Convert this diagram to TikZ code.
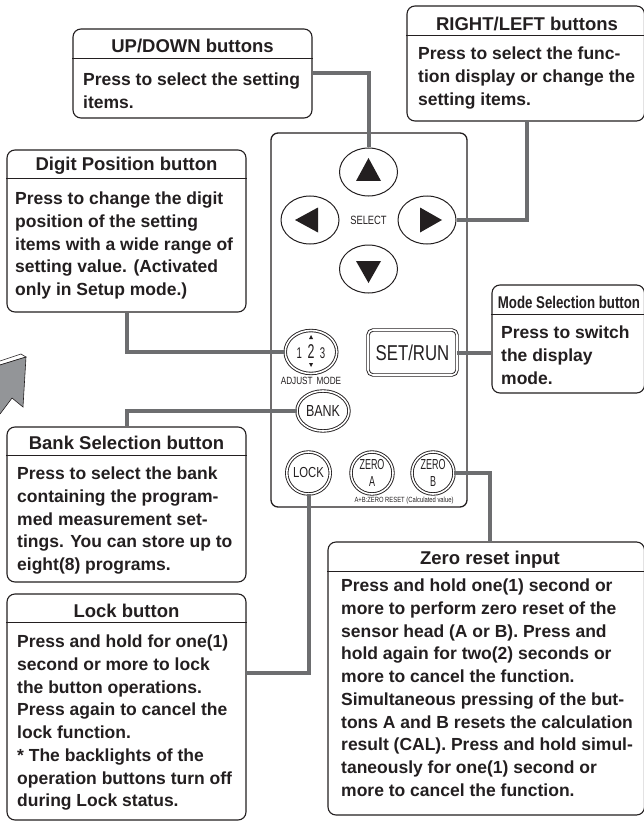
\documentclass[tikz,border=0pt]{standalone}
\usepackage{fontspec}
\setmainfont{Liberation Sans}
\newfontfamily\panelfont[FakeStretch=0.78]{Liberation Sans}
\newfontfamily\tallfont[FakeStretch=0.62]{Liberation Sans}
\newfontfamily\narrowfont[FakeStretch=0.78]{Liberation Sans}
\usetikzlibrary{shapes.geometric}
\definecolor{inkdark}{HTML}{231F20}
\definecolor{wiregray}{HTML}{6D6E70}
\definecolor{arrowgray}{HTML}{939598}
\tikzset{
  callout/.style={draw=inkdark, line width=1.1pt, rounded corners=8pt, fill=white, inner sep=0pt},
  calltitle/.style={text=inkdark, inner sep=0pt, font=\fontsize{18.5}{20}\selectfont\bfseries},
  callbody/.style={text=inkdark, inner sep=0pt, anchor=north west, align=left, font=\fontsize{17.5}{22.7}\selectfont\bfseries},
  headline/.style={draw=inkdark, line width=0.8pt},
  wire/.style={draw=wiregray, line width=4pt},
  selbtn/.style={draw=inkdark, line width=1pt, ellipse, fill=white, inner sep=0pt, minimum width=58pt, minimum height=48pt},
  dblbtn/.style={draw=inkdark, line width=0.9pt, double, double distance=1.6pt, ellipse, inner sep=0pt, align=center, text=inkdark},
  panellabel/.style={text=inkdark, inner sep=0pt, font=\panelfont\fontsize{12}{14}\selectfont},
  zerolabel/.style={font=\tallfont\fontsize{14.5}{15.5}\selectfont}
}
\begin{document}
\begin{tikzpicture}[x=1pt,y=-1pt]
    \useasboundingbox (0,0) rectangle (644,821);

    % the part of the big arrow at the left edge
    \fill[white,draw=inkdark,line width=0.6pt] (0,361) -- (21,354) -- (26,357) -- (0,365);
    \fill[arrowgray,draw=inkdark,line width=0.6pt] (0,365) -- (26,357) -- (23,407) -- (12,398) -- (0,414);

    % panel and buttons
    \node[draw=inkdark, line width=1.3pt, rounded corners=7pt, inner sep=0pt, minimum width=196pt, minimum height=374pt] (panel) at (369,320) {};

    \node[selbtn] (upbtn) at (368.5,172) {};
    \node[selbtn] (leftbtn) at (310,220) {};
    \node[selbtn] (rightbtn) at (427,220) {};
    \node[selbtn] (downbtn) at (368.5,269) {};
    \fill[inkdark] (356,181) -- (368.5,158) -- (381,181) -- cycle;
    \fill[inkdark] (295,220) -- (318,207.5) -- (318,232.5) -- cycle;
    \fill[inkdark] (442,220) -- (420,207.5) -- (420,232.5) -- cycle;
    \fill[inkdark] (356,261) -- (368.5,283) -- (381,261) -- cycle;
    \node[panellabel] (selectlabel) at (368.5,220) {SELECT};

    \node[dblbtn, minimum width=51.6pt, minimum height=43pt, font=\tallfont\fontsize{15.5}{17}\selectfont] (digitbtn) at (311,352) {1\hspace{5.5pt}{\fontsize{20}{20}\selectfont 2}\hspace{5.5pt}3};
    \fill[inkdark] (309,339) -- (311,335) -- (313,339) -- cycle;
    \fill[inkdark] (309,363) -- (311,367) -- (313,363) -- cycle;
    \node[panellabel, font=\panelfont\fontsize{10.5}{12}\selectfont] (adjustlabel) at (311,381) {ADJUST\hspace{4pt}MODE};

    \node[draw=inkdark, line width=0.9pt, double, double distance=1.6pt, rounded corners=5pt, inner sep=0pt, minimum width=89pt, minimum height=45pt, text=inkdark, font=\panelfont\fontsize{21.5}{23}\selectfont] (setrun) at (412.5,352.5) {SET/RUN};

    \node[dblbtn, minimum width=52pt, minimum height=40pt, font=\panelfont\fontsize{16}{18}\selectfont] (bankbtn) at (323,411) {BANK};
    \node[dblbtn, minimum width=42pt, minimum height=42pt, font=\panelfont\fontsize{14.5}{16}\selectfont] (lockbtn) at (308.5,473) {LOCK};
    \node[dblbtn, minimum width=42pt, minimum height=42pt, zerolabel] (zeroabtn) at (372,473) {ZERO\\[1.5pt]A};
    \node[dblbtn, minimum width=42pt, minimum height=42pt, zerolabel] (zerobbtn) at (433,473) {ZERO\\[1.5pt]B};
    \node[text=inkdark, inner sep=0pt, font=\panelfont\fontsize{7.5}{9}\selectfont] (resetlabel) at (404,501) {A+B:ZERO RESET (Calculated value)};

    % boxes
    \node[callout, minimum width=239pt, minimum height=89pt] (updown) at (192.5,73.5) {};
    \draw[headline] (updown.west |- 0,58) -- (updown.east |- 0,58);
    \node[calltitle] (updowntitle) at (updown.center |- 0,46) {UP/DOWN buttons};
    \node[callbody] (updownbody) at (83,73) {Press to select the setting\\items.};

    \node[callout, minimum width=237.5pt, minimum height=115pt] (rightleft) at (525.75,63.5) {};
    \draw[headline] (rightleft.west |- 0,35) -- (rightleft.east |- 0,35);
    \node[calltitle] (rightlefttitle) at (527,24) {RIGHT/LEFT buttons};
    \node[callbody] (rightleftbody) at (418,47) {Press to select the func-\\tion display or change the\\setting items.};

    \node[callout, minimum width=239pt, minimum height=162pt] (digit) at (126.5,231) {};
    \draw[headline] (digit.west |- 0,178) -- (digit.east |- 0,178);
    \node[calltitle] (digittitle) at (digit.center |- 0,166) {Digit Position button};
    \node[callbody] (digitbody) at (15,192) {Press to change the digit\\position of the setting\\items with a wide range of\\setting value. (Activated\\only in Setup mode.)};

    \node[callout, minimum width=152.5pt, minimum height=108pt] (mode) at (568.25,339) {};
    \draw[headline] (mode.west |- 0,314) -- (mode.east |- 0,314);
    \node[calltitle, font=\narrowfont\fontsize{17}{19}\selectfont\bfseries] (modetitle) at (569,302) {Mode Selection button};
    \node[callbody] (modebody) at (501,326) {Press to switch\\the display\\mode.};

    \node[callout, minimum width=239pt, minimum height=155pt] (bank) at (126.5,504.5) {};
    \draw[headline] (bank.west |- 0,455) -- (bank.east |- 0,455);
    \node[calltitle] (banktitle) at (bank.center |- 0,443) {Bank Selection button};
    \node[callbody] (bankbody) at (17,467) {Press to select the bank\\containing the program-\\med measurement set-\\tings. You can store up to\\eight(8) programs.};

    \node[callout, minimum width=239pt, minimum height=226pt] (lock) at (126.5,707) {};
    \draw[headline] (lock.west |- 0,622) -- (lock.east |- 0,622);
    \node[calltitle] (locktitle) at (lock.center |- 0,611) {Lock button};
    \node[callbody] (lockbody) at (17,635) {Press and hold for one(1)\\second or more to lock\\the button operations.\\Press again to cancel the\\lock function.\\* The backlights of the\\operation buttons turn off\\during Lock status.};

    \node[callout, minimum width=316.5pt, minimum height=273pt] (zero) at (486.25,678.5) {};
    \draw[headline] (zero.west |- 0,571) -- (zero.east |- 0,571);
    \node[calltitle] (zerotitle) at (490,560) {Zero reset input};
    \node[callbody] (zerobody) at (341,579) {Press and hold one(1) second or\\more to perform zero reset of the\\sensor head (A or B). Press and\\hold again for two(2) seconds or\\more to cancel the function.\\Simultaneous pressing of the but-\\tons A and B resets the calculation\\result (CAL). Press and hold simul-\\taneously for one(1) second or\\more to cancel the function.};

    % connectors
    \coordinate (rightleftdrop) at (527,121);
    \coordinate (lockdrop) at (246,673);
    \coordinate (zerodrop) at (490,542);
    \coordinate (modejoin) at (mode.west |- setrun.east);
    \draw[wire] (updown.east) -| (upbtn.north);
    \draw[wire] (rightleftdrop) |- (rightbtn.east);
    \draw[wire] (digit.south) |- (digitbtn.west);
    \draw[wire] (bank.north) |- (bankbtn.west);
    \draw[wire] (lockdrop) -| (lockbtn.south);
    \draw[wire] (zerobbtn.east) -| (zerodrop);
    \draw[wire] (setrun.east) -- (modejoin);

\end{tikzpicture}
\end{document}
